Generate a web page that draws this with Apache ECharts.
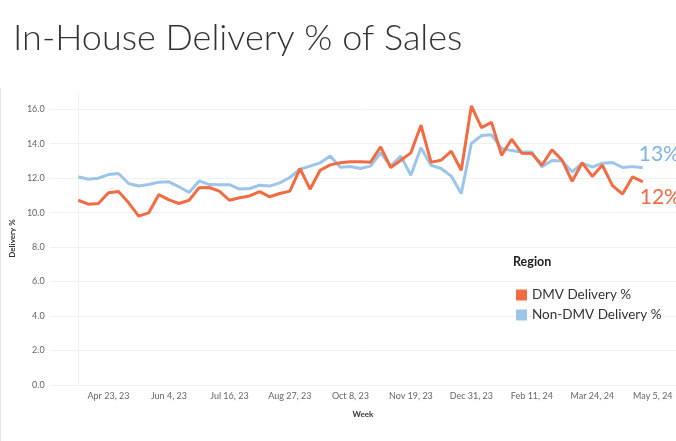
<!DOCTYPE html>
<html>
<head>
<meta charset="utf-8">
<script src="https://cdn.jsdelivr.net/npm/echarts@6/dist/echarts.min.js"></script>
<style>html,body{margin:0;padding:0;background:#fff;}#c{width:676px;height:441px;}</style>
</head>
<body>
<div id="c"></div>
<script>
const weeks = [
 '2023-04-02','2023-04-09','2023-04-16','2023-04-23','2023-04-30','2023-05-07','2023-05-14','2023-05-21',
 '2023-05-28','2023-06-04','2023-06-11','2023-06-18','2023-06-25','2023-07-02','2023-07-09','2023-07-16',
 '2023-07-23','2023-07-30','2023-08-06','2023-08-13','2023-08-20','2023-08-27','2023-09-03','2023-09-10',
 '2023-09-17','2023-09-24','2023-10-01','2023-10-08','2023-10-15','2023-10-22','2023-10-29','2023-11-05',
 '2023-11-12','2023-11-19','2023-11-26','2023-12-03','2023-12-10','2023-12-17','2023-12-24','2023-12-31',
 '2024-01-07','2024-01-14','2024-01-21','2024-01-28','2024-02-04','2024-02-11','2024-02-18','2024-02-25',
 '2024-03-03','2024-03-10','2024-03-17','2024-03-24','2024-03-31','2024-04-07','2024-04-14','2024-04-21',
 '2024-04-28'
];
const dmv = [
 10.72,10.49,10.53,11.15,11.23,10.57,9.80,9.99,
 11.05,10.74,10.53,10.72,11.45,11.46,11.25,10.72,
 10.86,10.97,11.22,10.92,11.11,11.25,12.56,11.36,
 12.46,12.77,12.89,12.95,12.95,12.93,13.82,12.62,
 13.04,13.47,15.07,12.93,13.04,13.57,12.46,16.19,
 14.93,15.24,13.33,14.26,13.45,13.43,12.75,13.65,
 13.05,11.82,12.89,12.10,12.76,11.57,11.08,12.08,
 11.79
];
const nonDmv = [
 12.08,11.94,12.00,12.21,12.27,11.69,11.55,11.63,
 11.77,11.79,11.50,11.17,11.84,11.63,11.62,11.62,
 11.37,11.40,11.59,11.54,11.73,12.04,12.52,12.70,
 12.89,13.28,12.64,12.68,12.56,12.70,13.47,12.70,
 13.28,12.17,13.76,12.75,12.56,12.12,11.11,14.01,
 14.47,14.52,13.72,13.60,13.52,13.52,12.66,13.02,
 13.00,12.37,12.87,12.64,12.87,12.91,12.62,12.67,
 12.60
];
const tickWeeks = ['2023-04-23','2023-06-04','2023-07-16','2023-08-27','2023-10-08','2023-11-19',
 '2023-12-31','2024-02-11','2024-03-24','2024-05-05'];
const seriesNames = ['DMV Delivery %','Non-DMV Delivery %'];

const MONTHS = ['Jan','Feb','Mar','Apr','May','Jun','Jul','Aug','Sep','Oct','Nov','Dec'];
const DAY = 86400000;
function toTime(s){const p=s.split('-').map(Number);return Date.UTC(p[0],p[1]-1,p[2]);}
const t0 = toTime(weeks[0]);
function toIdx(s){return Math.round((toTime(s)-t0)/(7*DAY));}
function fmtIdx(v){const d=new Date(t0+Math.round(v)*7*DAY);return MONTHS[d.getUTCMonth()]+' '+d.getUTCDate()+', '+String(d.getUTCFullYear()).slice(2);}

const ORANGE = '#F26B43', BLUE = '#9CC6E9';
const chart = echarts.init(document.getElementById('c'));
chart.setOption({
  animation:false,
  backgroundColor:'#fff',
  title:[
    {text:'In-House Delivery % of Sales',left:8,top:15,textStyle:{fontFamily:'Lato',fontWeight:300,fontSize:36,color:'#333'}},
    {text:'Region',left:508,top:250,textStyle:{fontFamily:'Lato',fontWeight:'bold',fontSize:12.5,color:'#222'}}
  ],
  legend:{orient:'vertical',left:511,top:283,icon:'rect',itemWidth:11,itemHeight:11,itemGap:6,
    textStyle:{fontFamily:'Lato',fontSize:13.5,color:'#333'},data:seriesNames},
  grid:{left:40,right:0,top:92,bottom:56},
  xAxis:{type:'value',min:-2.83,max:59.3,
    name:'Week',nameLocation:'middle',nameGap:25,nameTextStyle:{fontFamily:'Lato',fontWeight:'bold',fontSize:8,color:'#333'},
    axisLine:{show:false},axisTick:{show:false},splitLine:{show:false},
    axisLabel:{customValues:tickWeeks.map(toIdx),formatter:v=>fmtIdx(v),fontFamily:'Lato',fontSize:9,color:'#666',margin:7}},
  yAxis:{type:'value',min:0,max:17,interval:2,
    name:'Delivery %',nameLocation:'middle',nameGap:26,nameTextStyle:{fontFamily:'Lato',fontWeight:'bold',fontSize:8,color:'#333'},
    axisLine:{show:true,lineStyle:{color:'#f0f0f0'}},axisTick:{show:false},
    splitLine:{lineStyle:{color:'#f0f0f0'},showMaxLine:false},
    axisLabel:{showMaxLabel:false,formatter:v=>v.toFixed(1),fontFamily:'Lato',fontSize:9,color:'#666',margin:5}},
  graphic:[{type:'rect',shape:{x:0,y:88,width:1,height:353},style:{fill:'#e4e4e4'}}],
  series:[
    {name:seriesNames[1],type:'line',data:weeks.map((w,i)=>[i,nonDmv[i]]),showSymbol:false,
      lineStyle:{width:3,color:BLUE},itemStyle:{color:BLUE},z:2,
      endLabel:{show:true,formatter:p=>Math.round(p.value[1])+'%',distance:0,offset:[-4,-14],
        fontFamily:'Lato',fontSize:21,color:'#7DB5E6'}},
    {name:seriesNames[0],type:'line',data:weeks.map((w,i)=>[i,dmv[i]]),showSymbol:false,
      lineStyle:{width:3,color:ORANGE},itemStyle:{color:ORANGE},z:3,
      endLabel:{show:true,formatter:p=>Math.round(p.value[1])+'%',distance:0,offset:[-3,15],
        fontFamily:'Lato',fontSize:21,color:ORANGE}}
  ]
});
</script>
</body>
</html>
